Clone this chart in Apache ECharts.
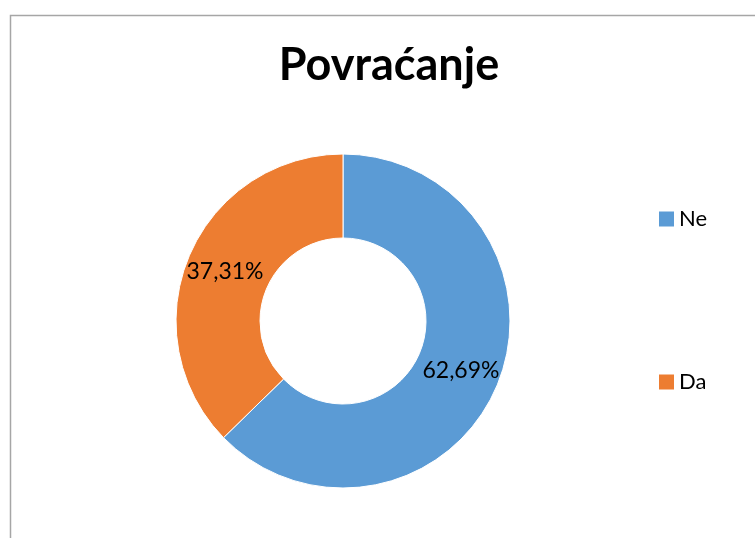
<!DOCTYPE html>
<html>
<head>
<meta charset="utf-8">
<script src="https://cdn.jsdelivr.net/npm/echarts@6/dist/echarts.min.js"></script>
<style>
  html, body { margin: 0; padding: 0; background: #fff; }
  #chart { width: 755px; height: 538px; }
</style>
</head>
<body>
<div id="chart"></div>
<script>
// podaci
var categories = ['Ne', 'Da'];
var values = [62.69, 37.31];
var colors = ['#5B9BD5', '#ED7D31'];

var chart = echarts.init(document.getElementById('chart'));

var pieData = categories.map(function (name, i) {
  return { name: name, value: values[i], itemStyle: { color: colors[i] } };
});

chart.setOption({
  animation: false,
  title: {
    text: 'Povraćanje',
    left: 384,
    top: 38,
    textAlign: 'center',
    textStyle: { fontFamily: 'Lato', fontWeight: 'bold', fontSize: 45, color: '#000' }
  },
  legend: {
    orient: 'vertical',
    left: 654,
    top: 203,
    padding: 5,
    itemWidth: 15,
    itemHeight: 15,
    itemGap: 141,
    icon: 'rect',
    itemStyle: { borderWidth: 0 },
    textStyle: { fontFamily: 'Lato', fontSize: 22, color: '#000', padding: [0, 0, 0, 0] },
    data: categories
  },
  graphic: [{
    type: 'rect',
    shape: { x: 10.5, y: 15.5, width: 800, height: 600 },
    style: { fill: 'none', stroke: '#a6a6a6', lineWidth: 1.5 },
    silent: true
  }],
  series: [{
    type: 'pie',
    center: [343, 321],
    radius: [83, 167],
    startAngle: 90,
    clockwise: true,
    itemStyle: { borderColor: '#fff', borderWidth: 1 },
    label: {
      show: true,
      position: 'inside',
      fontFamily: 'Lato',
      fontSize: 23,
      color: '#000',
      formatter: function (p) {
        return p.value.toFixed(2).replace('.', ',') + '%';
      }
    },
    labelLine: { show: false },
    data: pieData
  }]
});
</script>
</body>
</html>
